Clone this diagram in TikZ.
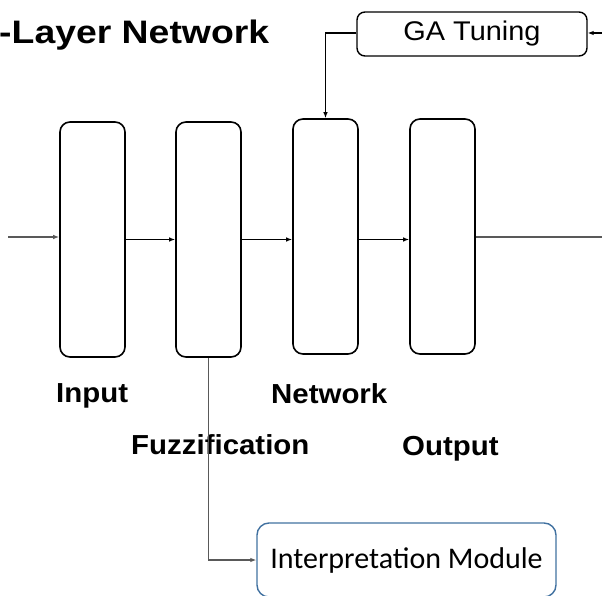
\documentclass[tikz,border=0pt]{standalone}
\usepackage{fontspec}
\setmainfont{Liberation Sans}
\newfontfamily\calibrifont{Carlito}
\usetikzlibrary{arrows.meta}
\definecolor{modblue}{RGB}{65,113,160}
\begin{document}
\begin{tikzpicture}[
    x=1pt, y=-1pt,
    layer/.style={rectangle, draw, line width=1.6pt, rounded corners=10pt, minimum width=65pt, minimum height=235pt, inner sep=0pt},
    tuner/.style={rectangle, draw, line width=1.4pt, rounded corners=8pt, minimum width=230pt, minimum height=44pt, inner sep=0pt, font=\fontsize{27}{32}\selectfont},
    module/.style={rectangle, draw=modblue, line width=1.4pt, rounded corners=12pt, minimum width=299pt, minimum height=74pt, inner sep=0pt, font=\calibrifont\fontsize{30}{35}\selectfont},
    lbl/.style={anchor=base west, inner sep=0pt, xscale=1.07, font=\bfseries\fontsize{27.5}{32}\selectfont},
    conn/.style={-{Latex[length=6pt,width=4.5pt]}, line width=1.1pt, color=#1},
    conn/.default=black
]
    \useasboundingbox (0,0) rectangle (602,596);

    % Titre et couches
    \node[anchor=base west, inner sep=0pt, xscale=1.15, font=\bfseries\fontsize{32.5}{38}\selectfont] (title) at (-1,44) {-Layer Network};
    \node[layer] (input) at (92.5,239.5) {};
    \node[layer] (fuzz) at (208.5,239.5) {};
    \node[layer] (network) at (325.5,236.5) {};
    \node[layer] (output) at (442.5,236.5) {};
    \node[tuner] (ga) at (472,34) {\scalebox{1.07}[1]{GA Tuning}};
    \node[module] (interp) at (406.5,560) {Interpretation Module};

    % Etiquettes
    \node[lbl] (lin) at (56,402) {Input};
    \node[lbl] (lnet) at (271,403) {Network};
    \node[lbl] (lfuzz) at (131,454) {Fuzzification};
    \node[lbl] (lout) at (402,455) {Output};

    % Liaisons
    \coordinate (src) at (8,237);
    \coordinate (sink) at (602,237);
    \coordinate (fb) at (602,33);
    \draw[conn=black!65] (src) -- (src -| input.west);
    \draw[conn] (input.east) -- (fuzz.west);
    \draw[conn] (fuzz.east) -- (fuzz.east -| network.west);
    \draw[conn] (network.east |- fuzz.east) -- (output.west |- fuzz.east);
    \draw[line width=1.3pt, black!65] (output.east |- sink) -- (sink);
    \draw[conn] (fb) -- (fb -| ga.east);
    \draw[conn] (ga.west |- fb) -| (network.north);
    \draw[conn=black!65] (fuzz.south) |- (interp.west);

\end{tikzpicture}
\end{document}
